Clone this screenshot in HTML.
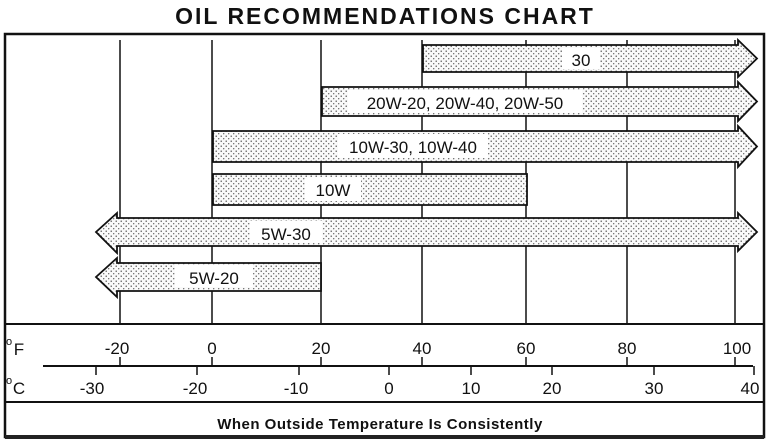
<!DOCTYPE html>
<html><head><meta charset="utf-8"><style>
html,body{margin:0;padding:0;background:#fff;}
svg{display:block;}
text{font-family:"Liberation Sans",Arial,sans-serif;fill:#111;}
</style></head><body>
<svg width="770" height="444" viewBox="0 0 770 444" xmlns="http://www.w3.org/2000/svg">
<defs>
<pattern id="d" width="5" height="5" patternUnits="userSpaceOnUse">
<rect width="5" height="5" fill="#fafafa"/>
<circle cx="1.2" cy="1.2" r="0.7" fill="#444"/>
<circle cx="3.7" cy="3.7" r="0.7" fill="#666"/>
</pattern>
</defs>
<text x="385" y="24" font-size="23" font-weight="bold" text-anchor="middle" letter-spacing="2">OIL RECOMMENDATIONS CHART</text>
<rect x="5" y="34" width="759" height="403" fill="none" stroke="#111" stroke-width="2.5"/>
<line x1="5" y1="437" x2="764" y2="437" stroke="#222" stroke-width="4"/>
<g stroke="#111" stroke-width="1.5">
<line x1="120" y1="40" x2="120" y2="324"/>
<line x1="212" y1="40" x2="212" y2="324"/>
<line x1="321" y1="40" x2="321" y2="324"/>
<line x1="422" y1="40" x2="422" y2="324"/>
<line x1="526" y1="40" x2="526" y2="324"/>
<line x1="627" y1="40" x2="627" y2="324"/>
<line x1="735" y1="40" x2="735" y2="324"/>
<line x1="5" y1="324" x2="764" y2="324" stroke-width="2"/>
<line x1="43" y1="366" x2="753" y2="366" stroke-width="2"/>
<line x1="5" y1="402" x2="764" y2="402" stroke-width="2"/>
<line x1="120" y1="357" x2="120" y2="366"/><line x1="212" y1="357" x2="212" y2="366"/>
<line x1="321" y1="357" x2="321" y2="366"/><line x1="422" y1="357" x2="422" y2="366"/>
<line x1="526" y1="357" x2="526" y2="366"/><line x1="627" y1="357" x2="627" y2="366"/>
<line x1="735" y1="357" x2="735" y2="366"/>
<line x1="96" y1="366" x2="96" y2="375"/><line x1="197" y1="366" x2="197" y2="375"/>
<line x1="299" y1="366" x2="299" y2="375"/><line x1="389" y1="366" x2="389" y2="375"/>
<line x1="471" y1="366" x2="471" y2="375"/><line x1="552" y1="366" x2="552" y2="375"/>
<line x1="654" y1="366" x2="654" y2="375"/><line x1="754" y1="366" x2="754" y2="375"/>
</g>
<g stroke="#111" stroke-width="1.8" fill="url(#d)">
<path d="M423 45 H738 V40 L757 58.5 L738 77 V72 H423 Z"/>
<path d="M322 87 H738 V82 L757 101.5 L738 121 V116 H322 Z"/>
<path d="M213 131 H738 V126 L757 146.5 L738 167 V162 H213 Z"/>
<path d="M213 174 H527 V205 H213 Z"/>
<path d="M117 218 H738 V213 L757 232 L738 251 V246 H117 V253 L96 232 L117 213 Z"/>
<path d="M117 263 H321 V291 H117 V297 L96 277 L117 258 Z"/>
</g>
<g fill="#fff">
<rect x="562" y="48" width="38" height="21"/>
<rect x="348" y="90" width="234" height="23"/>
<rect x="338" y="134" width="150" height="24"/>
<rect x="305" y="177" width="56" height="24"/>
<rect x="250" y="221" width="72" height="22"/>
<rect x="175" y="265" width="78" height="22"/>
</g>
<g font-size="17" text-anchor="middle">
<text x="581" y="66">30</text>
<text x="465" y="109">20W-20, 20W-40, 20W-50</text>
<text x="413" y="153">10W-30, 10W-40</text>
<text x="333" y="196">10W</text>
<text x="286" y="240">5W-30</text>
<text x="214" y="284">5W-20</text>
</g>
<g font-size="17" text-anchor="middle">
<text x="9" y="345" font-size="11">o</text><text x="19" y="355">F</text>
<text x="117" y="354">-20</text><text x="212" y="354">0</text><text x="321" y="354">20</text>
<text x="422" y="354">40</text><text x="526" y="354">60</text><text x="627" y="354">80</text>
<text x="737" y="354">100</text>
<text x="9" y="384" font-size="11">o</text><text x="19" y="394">C</text>
<text x="92" y="394">-30</text><text x="195" y="394">-20</text><text x="296" y="394">-10</text>
<text x="389" y="394">0</text><text x="471" y="394">10</text><text x="552" y="394">20</text>
<text x="654" y="394">30</text><text x="750" y="394">40</text>
</g>
<text x="380" y="429" font-size="15" font-weight="bold" text-anchor="middle" letter-spacing="0.5">When Outside Temperature  Is Consistently</text>
</svg>
</body></html>
